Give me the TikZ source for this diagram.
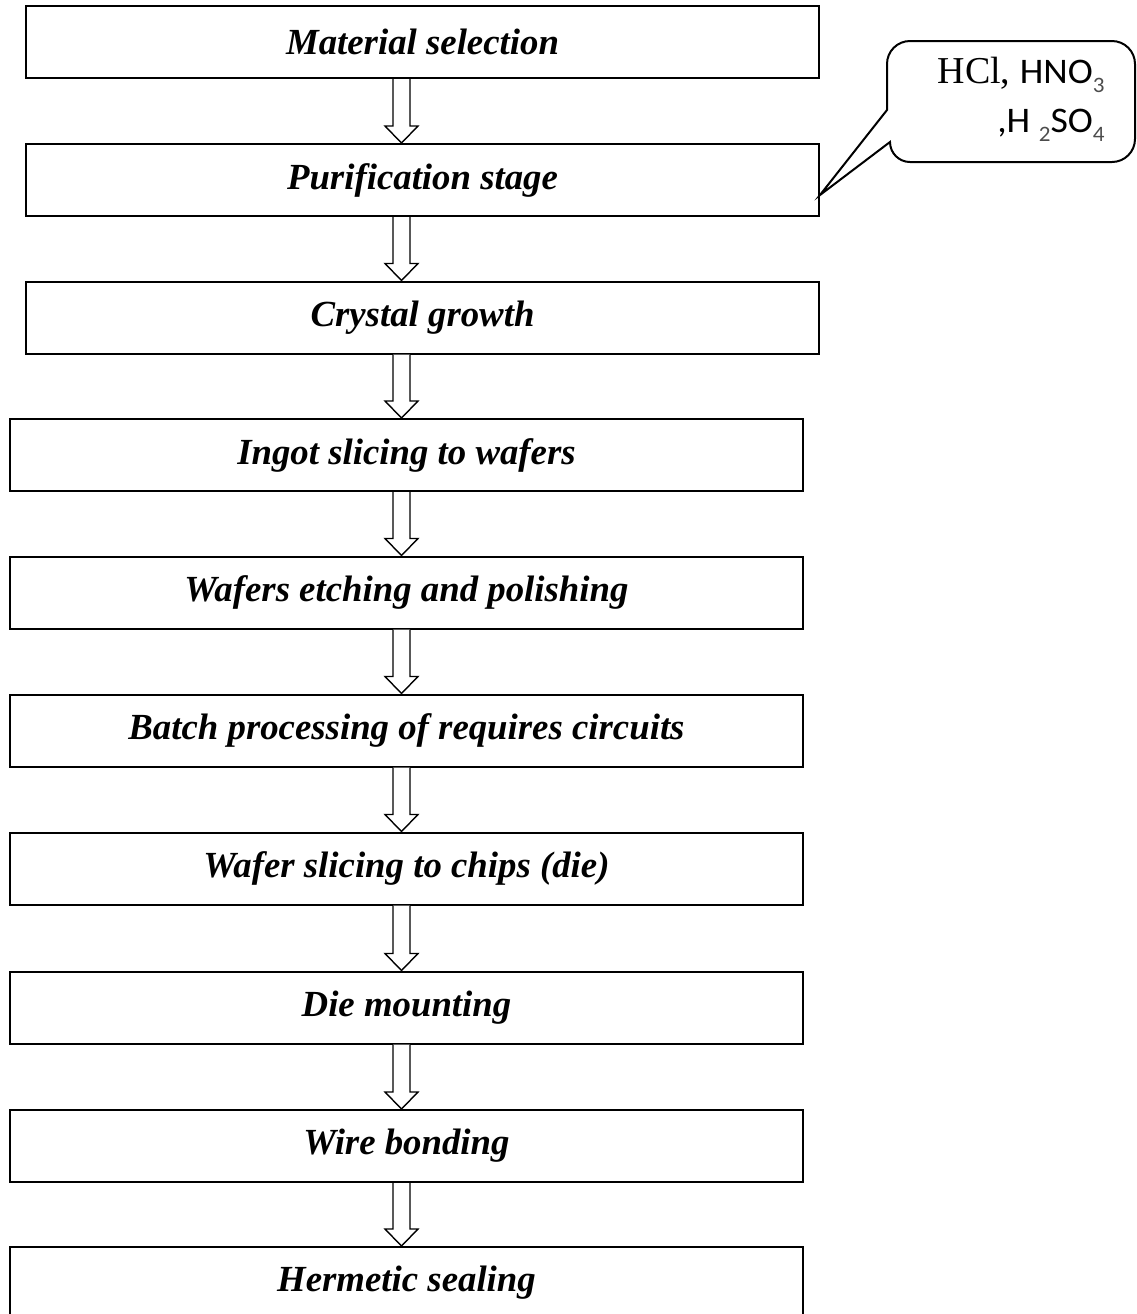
\documentclass[tikz,border=0pt]{standalone}
\usepackage{fontspec}
\setmainfont{Liberation Serif}
\newfontfamily\formulafont[FakeStretch=1.05]{Carlito}
\usetikzlibrary{calc}

% lowered, lighter index digits of the chemical formulas
\newcommand\chemsub[1]{\raisebox{-4.5pt}{\fontsize{11}{13}\selectfont\color{black!70}#1}}

\tikzset{
  stagebox/.style={draw, line width=1pt, minimum width=396.5pt, minimum height=36pt,
    inner sep=0pt, font=\fontsize{18.4}{22}\selectfont\bfseries\itshape},
  blockarr/.style={draw, line width=0.7pt, fill=white, line join=miter},
  calloutline/.style={draw, line width=1pt, line join=miter},
  chemtext/.style={anchor=base east, inner sep=0pt}
}

% hollow block arrow from the bottom of one stage to the top of the next
\newcommand\blockarrow[2]{%
  \draw[blockarr] let \p1=(#1.south), \p2=(#2.north), \p3=(ax) in
    (\x3-4.25pt,\y1) -- (\x3-4.25pt,\y2+8.5pt) -- (\x3-8.25pt,\y2+8.5pt) --
    (\x3,\y2) -- (\x3+8.25pt,\y2+8.5pt) -- (\x3+4.25pt,\y2+8.5pt) -- (\x3+4.25pt,\y1);}

\begin{document}
\begin{tikzpicture}[x=0.5pt, y=-0.5pt]
  \useasboundingbox (0,0) rectangle (1137,1314);
  \clip (0,0) rectangle (1137,1314);

  % process stages
  \node[stagebox] (s1)  at (422.5,42)    {Material selection};
  \node[stagebox] (s2)  at (422.5,180)   {Purification stage};
  \node[stagebox] (s3)  at (422.5,317.5) {Crystal growth};
  \node[stagebox] (s4)  at (406.5,455)   {Ingot slicing to wafers};
  \node[stagebox] (s5)  at (406.5,592.5) {Wafers etching and polishing};
  \node[stagebox] (s6)  at (406.5,730.5) {Batch processing of requires circuits};
  \node[stagebox] (s7)  at (406.5,868.5) {Wafer slicing to chips (die)};
  \node[stagebox] (s8)  at (406.5,1007.5){Die mounting};
  \node[stagebox] (s9)  at (406.5,1146)  {Wire bonding};
  \node[stagebox] (s10) at (406.5,1283)  {Hermetic sealing};

  % common axis of the flow arrows
  \coordinate (ax) at (401.5,0);
  \blockarrow{s1}{s2}
  \blockarrow{s2}{s3}
  \blockarrow{s3}{s4}
  \blockarrow{s4}{s5}
  \blockarrow{s5}{s6}
  \blockarrow{s6}{s7}
  \blockarrow{s7}{s8}
  \blockarrow{s8}{s9}
  \blockarrow{s9}{s10}

  % speech-bubble note on the purification stage (y axis points down here)
  \coordinate (tip) at ($(s2.east)+(0,15)$);
  \draw[calloutline] (887,110) -- (887,64) arc[start angle=180, end angle=270, radius=23]
    -- (1112,41) arc[start angle=270, end angle=360, radius=23]
    -- (1135,139) arc[start angle=0, end angle=90, radius=23]
    -- (910,162) arc[start angle=90, end angle=180, radius=20]
    -- (tip) -- cycle;
  \node[chemtext] (chemA) at (1105,83)
    {\fontsize{19}{22}\selectfont HCl, {\formulafont\fontsize{18}{21}\selectfont HNO\chemsub{3}}};
  \node[chemtext] (chemB) at (1105,132)
    {\formulafont\fontsize{18}{21}\selectfont ,H \chemsub{2}SO\chemsub{4}};
\end{tikzpicture}
\end{document}
